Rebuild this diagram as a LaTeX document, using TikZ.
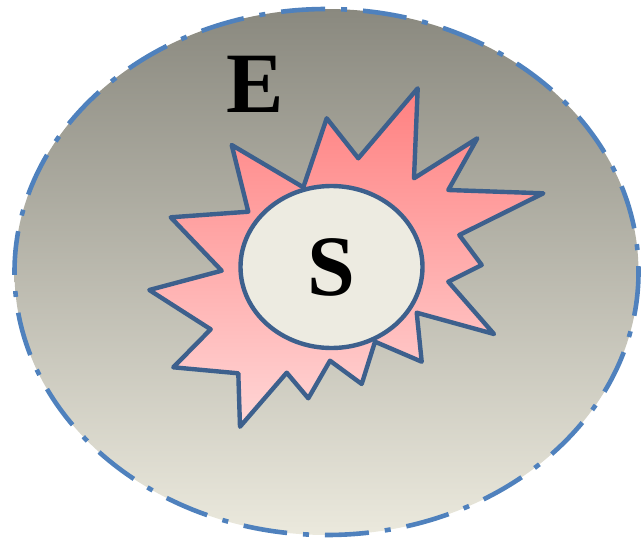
\documentclass[tikz,border=0pt]{standalone}
\usepackage{fontspec}
\setmainfont{Liberation Serif}
\usetikzlibrary{shapes.geometric}
\definecolor{rimblue}{RGB}{79,129,189}
\definecolor{edgeblue}{RGB}{61,96,141}
\definecolor{envtop}{RGB}{138,137,127}
\definecolor{envbot}{RGB}{235,233,221}
\definecolor{burstA}{RGB}{255,128,128}
\definecolor{burstB}{RGB}{255,214,214}
\definecolor{sysfill}{RGB}{237,235,225}
\begin{document}
\begin{tikzpicture}[x=1pt,y=-1pt]
  \useasboundingbox (0,0) rectangle (642,541);
  % Environment
  \draw[line width=4.6pt, rimblue, dash pattern=on 44pt off 16pt on 6pt off 16pt,
        top color=envtop, bottom color=envbot]
    (326.5,272) ellipse [x radius=312, y radius=263];
  \node[inner sep=0pt, font=\fontsize{86}{86}\selectfont\bfseries] (env) at (255,84) {E};
  % Burst
  \draw[line width=4.4pt, edgeblue, line join=round, top color=burstA, bottom color=burstB]
    (417.7,88.3) -- (414,178.3) -- (477.3,138.3) -- (448.3,190) -- (543.3,193.3)
    -- (459.3,235) -- (481.7,265) -- (448.3,281.7) -- (494,334) -- (416.7,312.7)
    -- (421.7,361.7) -- (375,341.7) -- (361.7,384) -- (330,360.7) -- (308.3,398.3)
    -- (286.7,372.7) -- (240,426.7) -- (238.3,373.3) -- (173.3,367.3) -- (210.7,329.3)
    -- (149.3,290) -- (221.7,270.7) -- (170.7,217.3) -- (248.3,211.7) -- (231.7,145)
    -- (303.3,187.3) -- (326.7,118.3) -- (358.3,158.3) -- cycle;
  % System
  \node[ellipse, draw=edgeblue, line width=4.4pt, fill=sysfill, inner sep=0pt,
        minimum width=182pt, minimum height=162pt,
        font=\fontsize{86}{86}\selectfont\bfseries] (sys) at (331.5,267) {S};
\end{tikzpicture}
\end{document}
